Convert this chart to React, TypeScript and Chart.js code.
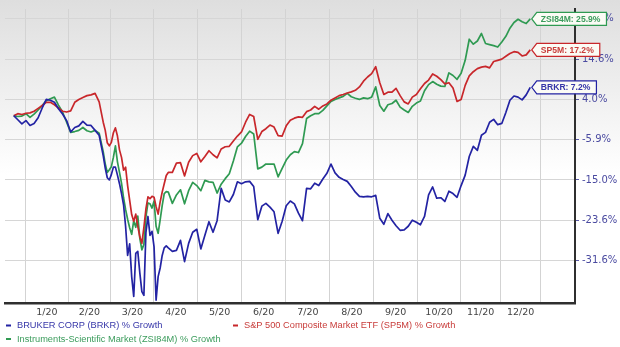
import React, { useEffect, useRef } from 'react';
import { Chart, LinearScale, registerables } from 'chart.js';

// Trading-day index of each sample (0 = first trading day of Jan 2020)
const DAYS = [
  -6, -4, -2, 0, 2, 4, 6, 8, 10, 12, 14, 16, 18, 20, 22, 24, 26, 28, 30, 32, 34, 36, 38,
  39, 40, 41, 42, 43, 44, 45, 46, 47, 48, 49, 50, 51, 52, 53, 54, 55, 56, 57, 58, 59, 60,
  61, 62, 63, 64, 65, 66, 67, 68, 69, 70,
  72, 74, 76, 78, 80, 82, 84, 86, 88, 90, 92, 94, 96, 98, 100, 102, 104, 106, 108, 110,
  112, 114, 116, 118, 120, 122, 124, 126, 128, 130, 132, 134, 136, 138, 140, 142, 144,
  146, 148, 150, 152, 154, 156, 158, 160, 162, 164, 166, 168, 170, 172, 174, 176, 178,
  180, 182, 184, 186, 188, 190, 192, 194, 196, 198, 200, 202, 204, 206, 208, 210, 212,
  214, 216, 218, 220, 222, 224, 226, 228, 230, 232, 234, 236, 238, 240, 242, 244, 246, 248,
];

const BRKR = [
  0.0, -1.0, -2.0, -1.2, -2.4, -1.9, -0.5, 1.9, 4.0, 3.8, 3.3, 1.7, 0.4, -1.2, -4.0, -2.9,
  -2.5, -1.4, -2.3, -2.4, -3.6, -4.8, -9.5,
  -12.3, -14.5, -15.0, -13.8, -12.1, -12.1, -13.9, -15.8, -17.9, -20.3, -24.8, -30.6,
  -28.3, -34.6, -38.3, -30.2, -29.8, -33.9, -37.4, -38.1, -26.0, -22.8, -26.6, -25.8,
  -28.9, -39.0, -34.6, -33.0, -30.6, -29.1, -28.7, -29.1,
  -29.8, -29.6, -27.6, -31.8, -28.2, -26.0, -25.4, -29.3, -26.6, -23.9, -26.0, -23.7,
  -16.8, -19.3, -19.7, -18.1, -15.4, -15.8, -15.4, -15.3, -16.4, -23.5, -20.6, -20.0,
  -20.8, -21.8, -26.2, -23.8, -20.5, -19.5, -20.1, -22.1, -23.7, -16.8, -16.9, -15.7,
  -16.2, -14.8, -13.5, -11.4, -13.4, -14.4, -14.9, -15.3, -16.4, -17.6, -18.5, -18.6,
  -18.5, -18.6, -18.3, -23.2, -24.4, -22.2, -23.6, -24.7, -25.6, -25.5, -24.8, -23.6,
  -24.0, -24.5, -22.8, -18.2, -16.5, -18.9, -18.8, -19.6, -17.4, -17.9, -18.7, -16.2,
  -13.9, -9.7, -7.4, -8.3, -4.8, -4.1, -1.6, -0.9, -2.2, -1.9, 0.8, 3.8, 4.9, 4.6, 3.9,
  5.2, 7.2,
];

const SP5M = [
  0.0, 0.5, 0.3, 0.6, 0.7, 1.1, 1.8, 2.5, 3.3, 3.3, 2.7, 1.9, 1.1, 0.9, 1.2, 3.3, 4.0,
  4.5, 5.0, 5.2, 5.6, 3.4, -1.6,
  -3.6, -6.6, -7.3, -6.5, -4.2, -3.0, -5.0, -8.2, -9.9, -12.8, -12.1, -16.2, -19.3,
  -22.4, -23.8, -22.3, -24.8, -26.9, -28.2, -25.0, -21.2, -18.6, -19.0, -18.5, -18.7,
  -20.7, -22.3, -19.7, -17.6, -15.8, -14.0, -13.3,
  -13.3, -11.2, -11.1, -14.1, -11.0, -9.5, -9.0, -10.9, -9.7, -8.4, -9.3, -10.0, -8.0,
  -7.5, -7.4, -6.2, -5.0, -4.0, -1.6, 0.3, -0.2, -5.8, -3.9, -3.2, -2.3, -2.8, -4.9,
  -5.0, -2.5, -1.1, -0.6, -0.3, -0.4, 1.0, 1.4, 2.3, 1.6, 2.4, 2.9, 3.8, 4.4, 5.0, 5.3,
  5.7, 6.0, 6.4, 7.3, 8.8, 9.9, 10.8, 12.6, 8.4, 5.3, 5.9, 5.9, 6.9, 5.0, 3.4, 2.9, 4.6,
  5.3, 6.8, 8.2, 9.1, 10.7, 10.1, 9.2, 8.1, 8.4, 7.0, 3.5, 4.0, 7.7, 10.2, 11.3, 12.1,
  12.5, 12.7, 12.3, 14.0, 14.3, 14.6, 15.4, 16.2, 16.7, 16.5, 15.5, 15.8, 17.2,
];

const ZSI84M = [
  0.0, -0.2, -0.1, 0.5, -0.4, 0.4, 1.4, 2.5, 3.7, 4.2, 4.6, 2.6, 0.9, -1.6, -4.1, -3.9,
  -3.6, -2.9, -3.7, -4.0, -3.6, -4.3, -8.6,
  -11.4, -13.3, -12.7, -12.0, -9.9, -7.3, -10.9, -13.3, -15.7, -18.8, -21.3, -23.4,
  -25.1, -26.4, -23.7, -25.0, -22.7, -27.2, -29.5, -28.4, -22.9, -19.9, -20.1, -21.0,
  -19.5, -24.8, -26.2, -23.5, -20.5, -17.9, -17.5, -17.6,
  -20.0, -18.2, -17.1, -20.1, -17.3, -15.5, -16.2, -17.3, -15.1, -15.4, -15.5, -17.8,
  -15.9, -14.7, -13.6, -10.7, -7.5, -6.7, -5.1, -3.8, -4.5, -12.5, -12.1, -11.4, -11.4,
  -11.4, -14.3, -12.4, -10.5, -9.3, -8.6, -8.8, -6.8, -0.7, 0.0, 0.5, 0.5, 1.3, 2.4, 3.5,
  4.0, 4.4, 4.8, 5.6, 4.7, 4.3, 4.0, 4.4, 4.2, 4.6, 7.3, 2.5, 1.1, 2.7, 3.0, 3.8, 2.1,
  1.4, 0.8, 2.3, 3.1, 3.6, 6.3, 7.9, 8.7, 8.0, 7.5, 7.4, 11.0, 10.3, 9.3, 10.9, 14.3,
  20.2, 18.8, 19.7, 21.8, 19.0, 18.7, 18.4, 18.0, 19.4, 21.0, 23.3, 24.9, 25.8, 25.1,
  24.6, 25.9,
];

const Y_TICKS = [25.9, 14.6, 4.0, -5.9, -15.0, -23.6, -31.6];
const MONTH_STARTS = [0, 20.7, 41.8, 62.9, 84.6, 106, 127.8, 149.5, 171.1, 192.6, 213.7, 233.5, 253];
const MONTH_LABELS = ['1/20', '2/20', '3/20', '4/20', '5/20', '6/20', '7/20', '8/20', '9/20', '10/20', '11/20', '12/20'];
const LEGEND_NAMES = [
  'BRUKER CORP (BRKR) % Growth',
  'S&P 500 Composite Market ETF (SP5M) % Growth',
  'Instruments-Scientific Market (ZSI84M) % Growth',
];
const TAG_NAMES = ['BRKR', 'SP5M', 'ZSI84M'];

const LINE_COLORS = ['#2323a3', '#c8272b', '#2f9a52'];
const TEXT_COLORS = ['#3535a8', '#c83c3a', '#3b9c5c'];

// ---- piecewise scale: tick values are evenly spaced ----
const ASC = [...Y_TICKS].sort((a, b) => a - b);
const LOW_STEP = 7.5;
function toUnit(v: number): number {
  const n = ASC.length;
  if (v < ASC[0]) return (v - ASC[0]) / LOW_STEP;
  for (let i = 0; i < n - 1; i++) {
    if (v <= ASC[i + 1]) return i + (v - ASC[i]) / (ASC[i + 1] - ASC[i]);
  }
  return n - 1 + (v - ASC[n - 1]) / (ASC[n - 1] - ASC[n - 2]);
}
function fromUnit(u: number): number {
  const n = ASC.length;
  if (u < 0) return ASC[0] + u * LOW_STEP;
  if (u >= n - 1) return ASC[n - 1] + (u - (n - 1)) * (ASC[n - 1] - ASC[n - 2]);
  const i = Math.floor(u);
  return ASC[i] + (u - i) * (ASC[i + 1] - ASC[i]);
}

class StepScale extends LinearScale {
  static id = 'step';
  static defaults = {};
  configure() {
    super.configure();
    (this as any)._u0 = toUnit((this as any).min);
    (this as any)._u1 = toUnit((this as any).max);
  }
  getPixelForValue(value: number) {
    if (value === null || value === undefined || isNaN(value)) return NaN;
    const u0 = (this as any)._u0;
    const u1 = (this as any)._u1;
    return (this as any).getPixelForDecimal((toUnit(value) - u0) / (u1 - u0));
  }
  getValueForPixel(pixel: number) {
    const u0 = (this as any)._u0;
    const u1 = (this as any)._u1;
    return fromUnit(u0 + (this as any).getDecimalForPixel(pixel) * (u1 - u0));
  }
}

Chart.register(...registerables, StepScale as any);

const MIDS = MONTH_STARTS.slice(0, -1).map((v, i) => (v + MONTH_STARTS[i + 1]) / 2);

const bgPlugin = {
  id: 'bgGrad',
  beforeDraw(chart: any) {
    const { ctx, width, height } = chart;
    ctx.save();
    ctx.fillStyle = '#ffffff';
    ctx.fillRect(0, 0, width, height);
    const g = ctx.createLinearGradient(0, 0, 0, 175);
    g.addColorStop(0, '#dedede');
    g.addColorStop(1, '#ffffff');
    ctx.fillStyle = g;
    ctx.fillRect(0, 0, width, 175);
    ctx.restore();
  },
};

const tagPlugin = {
  id: 'endTags',
  afterDatasetsDraw(chart: any) {
    const ctx = chart.ctx;
    ctx.save();
    ctx.font = 'bold 8.6px "Liberation Sans", Arial, sans-serif';
    ctx.textBaseline = 'middle';
    chart.data.datasets.forEach((ds: any, i: number) => {
      const meta = chart.getDatasetMeta(i);
      const el = meta.data[meta.data.length - 1];
      if (!el) return;
      const last = ds.data[ds.data.length - 1].y;
      const text = `${TAG_NAMES[i]}: ${last.toFixed(1)}%`;
      const tw = ctx.measureText(text).width;
      const tip = el.x + 1.5;
      const bx = tip + 5;
      const w = tw + 10;
      const h = 13;
      const y = el.y;
      ctx.beginPath();
      ctx.moveTo(tip, y);
      ctx.lineTo(bx, y - h / 2);
      ctx.lineTo(bx + w, y - h / 2);
      ctx.lineTo(bx + w, y + h / 2);
      ctx.lineTo(bx, y + h / 2);
      ctx.closePath();
      ctx.fillStyle = '#fbfbf5';
      ctx.fill();
      ctx.lineWidth = 1.2;
      ctx.strokeStyle = LINE_COLORS[i];
      ctx.stroke();
      ctx.fillStyle = TEXT_COLORS[i];
      ctx.textAlign = 'left';
      ctx.fillText(text, bx + 4, y + 0.5);
    });
    ctx.restore();
  },
};

const legendPlugin = {
  id: 'customLegend',
  afterDraw(chart: any) {
    const ctx = chart.ctx;
    const items = [
      { i: 0, x: 6, y: 325.5 },
      { i: 1, x: 233, y: 325.5 },
      { i: 2, x: 6, y: 339 },
    ];
    ctx.save();
    ctx.font = '9.25px "Liberation Sans", Arial, sans-serif';
    ctx.textBaseline = 'middle';
    ctx.textAlign = 'left';
    items.forEach((it) => {
      ctx.fillStyle = LINE_COLORS[it.i];
      ctx.fillRect(it.x, it.y - 1, 5, 2);
      ctx.fillStyle = TEXT_COLORS[it.i];
      ctx.fillText(LEGEND_NAMES[it.i], it.x + 11, it.y);
    });
    ctx.restore();
  },
};

export default function App() {
  const canvasRef = useRef<HTMLCanvasElement | null>(null);

  useEffect(() => {
    if (!canvasRef.current) return;
    const series = [BRKR, SP5M, ZSI84M];
    const chart = new Chart(canvasRef.current, {
      type: 'line',
      data: {
        datasets: series.map((vals, i) => ({
          label: TAG_NAMES[i],
          data: vals.map((v, k) => ({ x: DAYS[k], y: v })),
          borderColor: LINE_COLORS[i],
          borderWidth: 1.7,
          pointRadius: 0,
          tension: 0,
          fill: false,
          borderJoinStyle: 'round' as const,
        })),
      },
      options: {
        animation: false,
        responsive: true,
        maintainAspectRatio: false,
        layout: { padding: { left: 5, right: 0, top: 0, bottom: 27 } },
        plugins: { legend: { display: false }, tooltip: { enabled: false } },
        scales: {
          x: {
            type: 'linear',
            min: -10.3,
            max: 270,
            afterBuildTicks: (s: any) => {
              s.ticks = [...MONTH_STARTS, ...MIDS]
                .sort((a, b) => a - b)
                .map((v) => ({ value: v }));
            },
            afterFit: (s: any) => {
              s.height = 17;
            },
            grid: {
              color: (c: any) =>
                c.tick && MONTH_STARTS.includes(c.tick.value) ? '#d3d3d3' : 'rgba(0,0,0,0)',
              drawTicks: false,
              lineWidth: 1,
            },
            border: { color: '#2f2f2f', width: 2.5 },
            ticks: {
              autoSkip: false,
              maxRotation: 0,
              padding: 4,
              color: '#444444',
              font: { family: 'DejaVu Sans', size: 9.5 },
              callback: (v: any) => {
                const i = MIDS.indexOf(v);
                return i >= 0 ? MONTH_LABELS[i] : '';
              },
            },
          },
          y: {
            type: 'step' as any,
            position: 'right',
            min: -39.52,
            max: 28.68,
            afterBuildTicks: (s: any) => {
              s.ticks = Y_TICKS.map((v) => ({ value: v }));
            },
            afterFit: (s: any) => {
              s.width = 45;
            },
            grid: {
              color: '#d6d6d6',
              tickColor: '#5a5aa8',
              tickLength: 4,
              tickWidth: 1,
              lineWidth: 1,
            },
            border: { color: '#2f2f2f', width: 2 },
            ticks: {
              padding: 3,
              color: '#4a4aa0',
              font: { family: 'DejaVu Sans', size: 10 },
              callback: (v: any) => `${Number(v).toFixed(1)}%`,
            },
          } as any,
        },
      },
      plugins: [bgPlugin, tagPlugin, legendPlugin],
    } as any);
    return () => chart.destroy();
  }, []);

  return (
    <div style={{ position: 'absolute', left: 0, top: 0, width: 620, height: 347 }}>
      <canvas ref={canvasRef} />
    </div>
  );
}
